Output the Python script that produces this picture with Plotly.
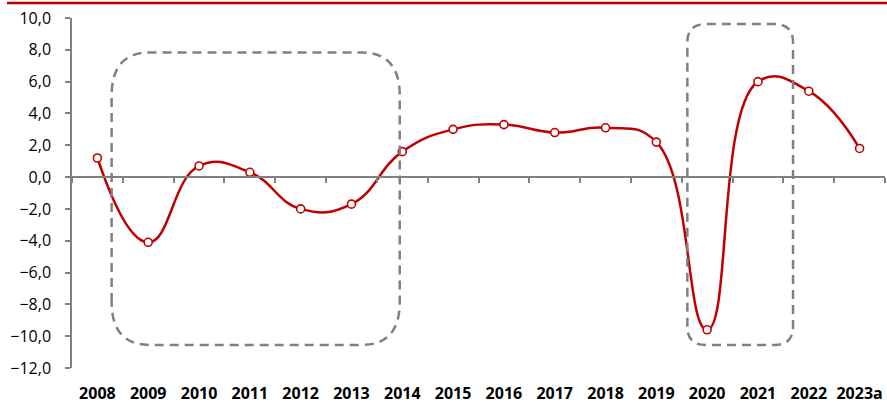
import plotly.graph_objects as go

years = ["2008", "2009", "2010", "2011", "2012", "2013", "2014", "2015",
         "2016", "2017", "2018", "2019", "2020", "2021", "2022", "2023a"]
growth = [1.2, -4.1, 0.7, 0.3, -2.0, -1.7, 1.6, 3.0, 3.3, 2.8, 3.1, 2.2, -9.6, 6.0, 5.4, 1.8]
y_ticks = [10, 8, 6, 4, 2, 0, -2, -4, -6, -8, -10, -12]

# highlight boxes: (x0, x1, y0, y1, rx, ry) in axis units
boxes = [(0.28, 5.95, -10.55, 7.83, 0.75, 2.7),
         (11.61, 13.69, -10.55, 9.62, 0.36, 1.15)]

RED = "#C00000"
GRAY = "#808080"
xs = list(range(len(years)))

fig = go.Figure()
fig.add_trace(go.Scatter(
    x=xs, y=growth, mode="lines+markers",
    line=dict(color=RED, width=2.5, shape="spline", smoothing=1.3),
    marker=dict(size=8, color="white", line=dict(color=RED, width=1.6)),
    showlegend=False, hoverinfo="skip"))

def rounded(x0, x1, y0, y1, rx, ry):
    return (f"M {x0},{y0+ry} L {x0},{y1-ry} Q {x0},{y1} {x0+rx},{y1} "
            f"L {x1-rx},{y1} Q {x1},{y1} {x1},{y1-ry} "
            f"L {x1},{y0+ry} Q {x1},{y0} {x1-rx},{y0} "
            f"L {x0+rx},{y0} Q {x0},{y0} {x0},{y0+ry} Z")

shapes = []
for b in boxes:
    shapes.append(dict(type="path", xref="x", yref="y", path=rounded(*b),
                       line=dict(color=GRAY, width=2.5, dash="9px,6px"),
                       fillcolor="rgba(0,0,0,0)", layer="above"))
# top red rule
shapes.append(dict(type="line", xref="paper", yref="paper",
                   x0=-0.08, x1=1.01, y0=1.0426, y1=1.0426,
                   line=dict(color=RED, width=2.5)))

ymin, ymax = -12, 10
zero_pos = (0 - ymin) / (ymax - ymin)

fig.update_layout(
    width=887, height=406,
    margin=dict(l=72, r=2, t=18, b=36),
    paper_bgcolor="white", plot_bgcolor="white",
    separators=",.",
    font=dict(family="Open Sans, Noto Sans, sans-serif", size=14, color="#000000"),
    shapes=shapes,
    xaxis=dict(range=[-0.5, 15.5], tickmode="array", tickvals=xs, ticktext=years,
               showline=False, showgrid=False, zeroline=False, ticks="",
               tickfont=dict(size=16, family="Open Sans, sans-serif", weight="bold"),
               ticklabelstandoff=14),
    xaxis2=dict(range=[-0.5, 15.5], overlaying="x", anchor="free", position=zero_pos,
                side="bottom", showline=True, linecolor=GRAY, linewidth=1.5,
                tickmode="array", tickvals=[i + 0.5 for i in range(-1, len(years))],
                ticks="outside", ticklen=5, tickwidth=1.5, tickcolor=GRAY,
                showticklabels=False, showgrid=False, zeroline=False),
    yaxis=dict(range=[ymin, ymax], tickmode="array", tickvals=y_ticks,
               tickformat=".1f", showline=True, linecolor=GRAY, linewidth=1.5,
               ticks="outside", ticklen=5, tickwidth=1.5, tickcolor=GRAY,
               showgrid=False, zeroline=False, ticklabelstandoff=11,
               tickfont=dict(size=16)),
)
fig.add_trace(go.Scatter(x=[None], y=[None], xaxis="x2", showlegend=False))

fig.write_html("out.html", config={"displayModeBar": False},
               post_script="document.body.style.margin='0';")
